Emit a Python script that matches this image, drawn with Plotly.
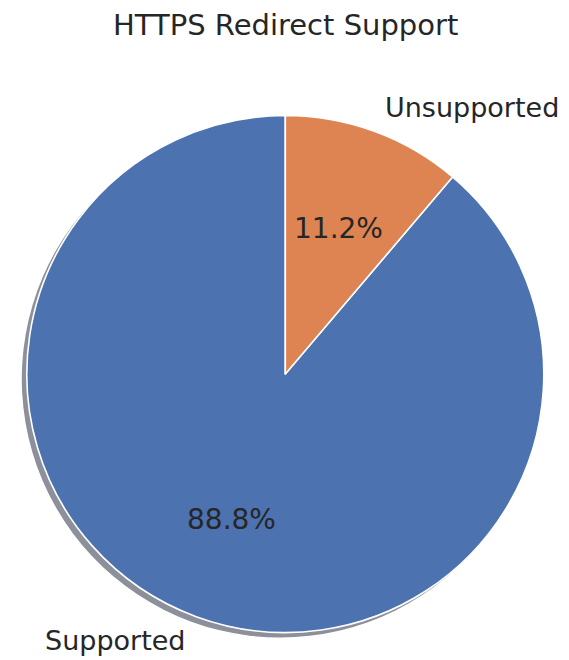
import math
import plotly.graph_objects as go

# Share of sites by HTTPS redirect support (percent)
labels = ["Supported", "Unsupported"]
shares = [88.8, 11.2]

colors = ["#4C72B0", "#DD8452"]
shadow_colors = ["#8B909A", "#A0938C"]
text_color = "#262626"

W, H = 569, 660
cx, cy, r = 285.3, 374.0, 258.5      # pie centre and radius, pixels
shadow_dx, shadow_dy = -5.0, 5.0      # shadow offset, pixels

total = sum(shares)
# wedges run counter-clockwise from 12 o'clock; in clockwise terms the first
# wedge therefore begins where the last one ends
start_rot = 360.0 * shares[-1] / total

def domain(dx=0.0, dy=0.0):
    return dict(
        x=[(cx - r + dx) / W, (cx + r + dx) / W],
        y=[1 - (cy + r + dy) / H, 1 - (cy - r + dy) / H],
    )

fig = go.Figure()

# drop shadow underneath
fig.add_trace(go.Pie(
    labels=labels, values=shares, sort=False, direction="clockwise",
    rotation=start_rot, textinfo="none", hoverinfo="skip",
    marker=dict(colors=shadow_colors, line=dict(width=0)),
    domain=domain(shadow_dx, shadow_dy), showlegend=False,
))

# the pie itself
fig.add_trace(go.Pie(
    labels=labels, values=shares, sort=False, direction="clockwise",
    rotation=start_rot, textinfo="none",
    marker=dict(colors=colors, line=dict(color="white", width=1.6)),
    domain=domain(), showlegend=False,
))

# slice labels (outside, 1.1 r) and percentages (inside, 0.6 r)
start = 90.0
annotations = []
for lab, val in zip(labels, shares):
    span = 360.0 * val / total
    mid = math.radians(start + span / 2)
    start += span
    ux, uy = math.cos(mid), math.sin(mid)
    lx, ly = cx + 1.1 * r * ux, cy - 1.1 * r * uy
    annotations.append(dict(
        x=lx / W, y=1 - ly / H, xref="paper", yref="paper",
        text=lab, showarrow=False,
        xanchor="left" if ux > 0 else "right", yanchor="middle",
        font=dict(family="DejaVu Sans", size=27, color=text_color),
    ))
    px, py = cx + 0.6 * r * ux, cy - 0.6 * r * uy
    annotations.append(dict(
        x=px / W, y=1 - py / H, xref="paper", yref="paper",
        text=f"{100 * val / total:.1f}%", showarrow=False,
        xanchor="center", yanchor="middle",
        font=dict(family="DejaVu Sans", size=28, color=text_color),
    ))

annotations.append(dict(
    x=285.5 / W, y=1 - 25 / H, xref="paper", yref="paper",
    text="HTTPS Redirect Support", showarrow=False,
    xanchor="center", yanchor="middle",
    font=dict(family="DejaVu Sans", size=29, color=text_color),
))

fig.update_layout(
    width=W, height=H,
    margin=dict(l=0, r=0, t=0, b=0),
    paper_bgcolor="white", plot_bgcolor="white",
    annotations=annotations,
)

fig.write_html("out.html")
